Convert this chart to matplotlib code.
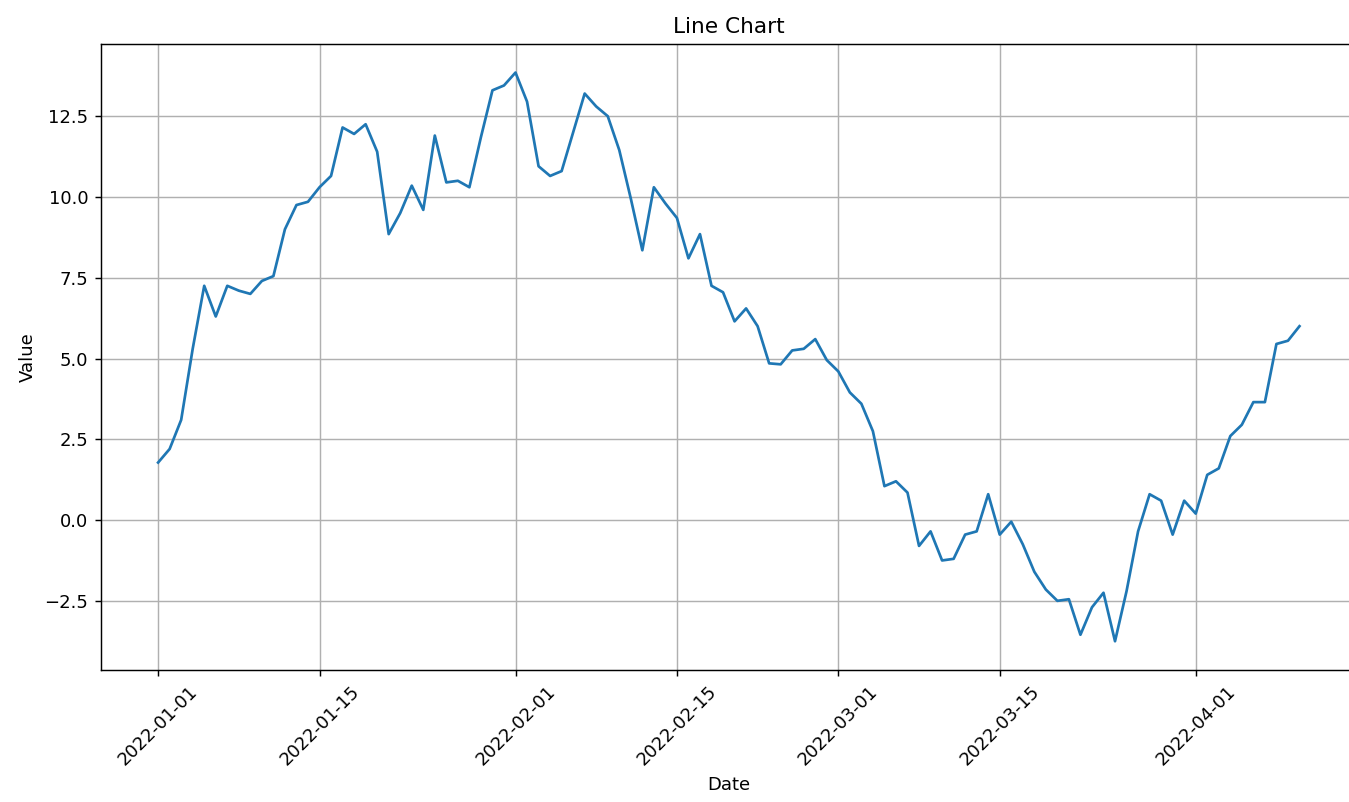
import pandas as pd
import matplotlib
matplotlib.use("Agg")
import matplotlib.pyplot as plt

# daily values, starting 2022-01-01
values = [1.78, 2.2, 3.1, 5.3, 7.25, 6.3, 7.25, 7.1, 7.0, 7.4,
          7.55, 9.0, 9.75, 9.85, 10.3, 10.65, 12.15, 11.95, 12.25, 11.4,
          8.85, 9.5, 10.35, 9.6, 11.9, 10.45, 10.5, 10.3, 11.85, 13.3,
          13.45, 13.85, 12.95, 10.95, 10.65, 10.8, 12.0, 13.2, 12.8, 12.5,
          11.45, 9.95, 8.35, 10.3, 9.8, 9.35, 8.1, 8.85, 7.25, 7.05,
          6.15, 6.55, 6.0, 4.85, 4.82, 5.25, 5.3, 5.6, 4.95, 4.6,
          3.95, 3.6, 2.75, 1.05, 1.2, 0.85, -0.8, -0.35, -1.25, -1.2,
          -0.45, -0.35, 0.8, -0.45, -0.05, -0.75, -1.6, -2.15, -2.5, -2.45,
          -3.55, -2.7, -2.25, -3.75, -2.2, -0.35, 0.8, 0.6, -0.45, 0.6,
          0.2, 1.4, 1.6, 2.6, 2.95, 3.65, 3.65, 5.45, 5.55, 6.0]
dates = pd.date_range("2022-01-01", periods=len(values), freq="D")

df = pd.DataFrame({"Date": dates, "Value": values})

fig = plt.figure(figsize=(1349 / 130, 802 / 130), dpi=130)
# the reference is cropped on the right, so the axes run past the edge
ax = fig.add_axes([0.0749, 0.165, 0.9307, 0.780])
ax.plot(df["Date"], df["Value"])
ax.set_title("Line Chart")
ax.set_xlabel("Date")
ax.set_ylabel("Value")
ax.grid(True)
plt.setp(ax.get_xticklabels(), rotation=45)

fig.savefig("out.png", dpi=130)
